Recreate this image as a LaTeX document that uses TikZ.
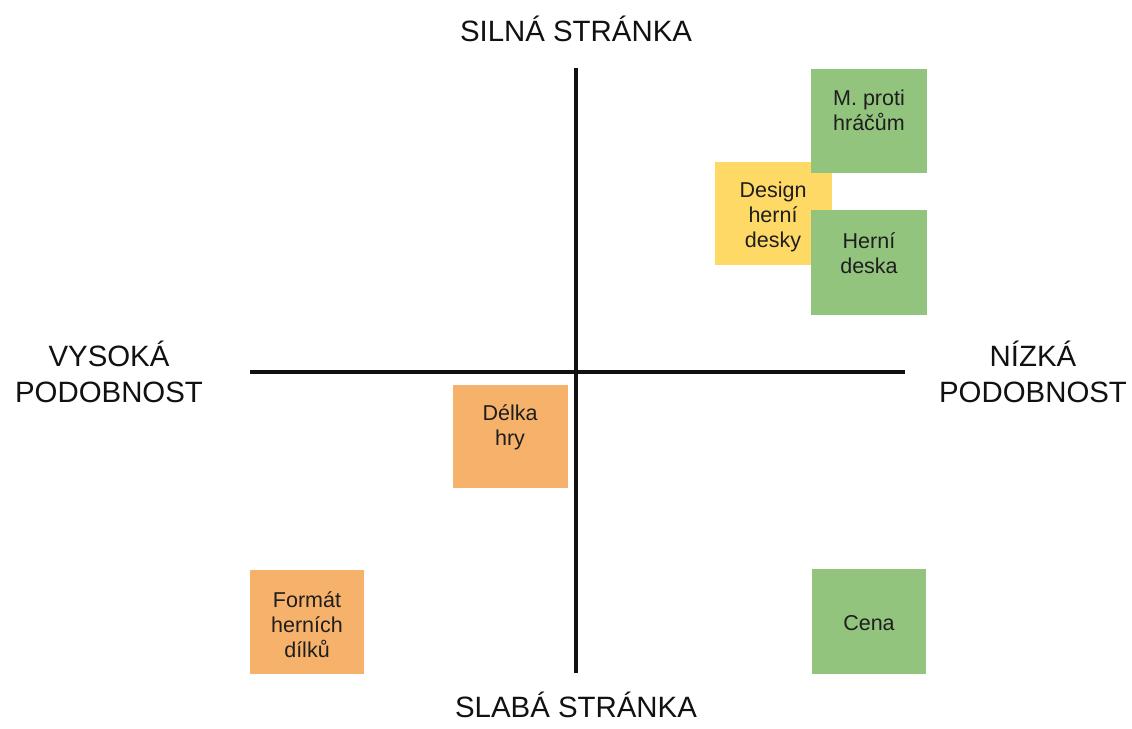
\documentclass[tikz,border=0pt]{standalone}
\usepackage{fontspec}
\setmainfont{Liberation Sans}
\definecolor{notegreen}{HTML}{93C47D}
\definecolor{noteorange}{HTML}{F6B26B}
\definecolor{noteyellow}{HTML}{FFD966}
\definecolor{notefg}{HTML}{1E1E1E}
\definecolor{axisfg}{HTML}{111111}
\begin{document}
\begin{tikzpicture}[x=1pt,y=-1pt,
  note/.style={draw=none, inner sep=0pt, anchor=north west},
  notelbl/.style={inner sep=0pt, anchor=base, align=center, text=notefg,
    font=\fontsize{21.5}{24.8}\selectfont},
  axislbl/.style={inner sep=0pt, anchor=base, align=center, text=axisfg,
    font=\fontsize{29.4}{36}\selectfont},
  axisline/.style={draw=axisfg, line width=4pt}]
\useasboundingbox[fill=white] (0,0) rectangle (1132,728);
% axes
\coordinate (vtop) at (576,68);
\coordinate (vbot) at (576,673);
\coordinate (hleft) at (250,372);
\coordinate (hright) at (905,372);
\draw[axisline] (vtop) -- (vbot);
\draw[axisline] (hleft) -- (hright);
% axis labels (anchor = baseline of last line)
\node[axislbl] (silna) at (576,41) {SILNÁ STRÁNKA};
\node[axislbl] (slaba) at (576,717) {SLABÁ STRÁNKA};
\node[axislbl] (vysoka) at (109,402) {VYSOKÁ\\PODOBNOST};
\node[axislbl] (nizka) at (1033,402) {NÍZKÁ\\PODOBNOST};
% notes
\node[note, fill=noteyellow, minimum width=117pt, minimum height=103pt] (design) at (715,162) {};
\node[note, fill=notegreen, minimum width=116pt, minimum height=104pt] (mproti) at (811,69) {};
\node[note, fill=notegreen, minimum width=116pt, minimum height=105pt] (herni) at (811,210) {};
\node[note, fill=noteorange, minimum width=115pt, minimum height=103pt] (delka) at (453,385) {};
\node[note, fill=noteorange, minimum width=114pt, minimum height=104pt] (format) at (250,570) {};
\node[note, fill=notegreen, minimum width=114pt, minimum height=105pt] (cena) at (812,569) {};
% note texts (anchor = baseline of last line)
\node[notelbl] (designT) at (773,247) {Design\\herní\\desky};
\node[notelbl] (mprotiT) at (869,130) {M. proti\\hráčům};
\node[notelbl] (herniT) at (869,273) {Herní\\deska};
\node[notelbl] (delkaT) at (510,445) {Délka\\hry};
\node[notelbl] (formatT) at (307,657) {Formát\\herních\\dílků};
\node[notelbl] (cenaT) at (869,630) {Cena};
\end{tikzpicture}
\end{document}
